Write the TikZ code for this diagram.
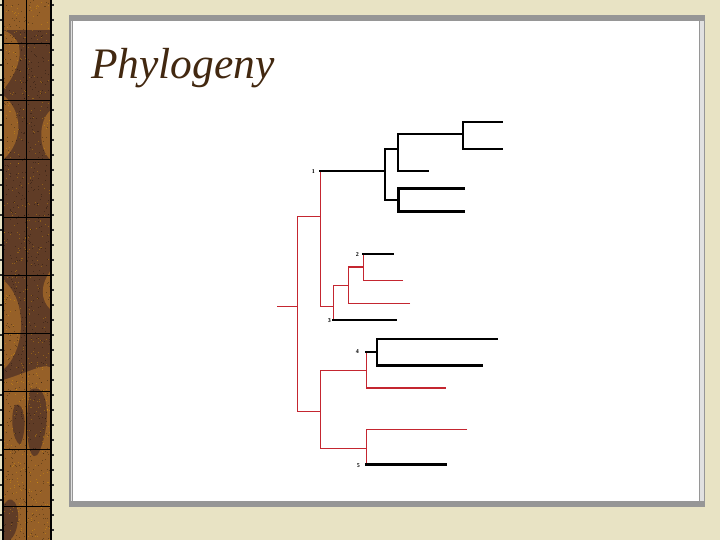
\documentclass[tikz,border=0pt]{standalone}
\usepackage{fontspec}
\setmainfont{Liberation Serif}
\definecolor{bgbeige}{RGB}{232,227,196}
\definecolor{browndark}{RGB}{96,60,38}
\definecolor{brownorange}{RGB}{150,96,40}
\definecolor{framegray}{RGB}{150,150,150}
\definecolor{framelight}{RGB}{225,225,225}
\definecolor{treered}{RGB}{196,38,48}
\definecolor{titlebrown}{RGB}{66,40,16}
\tikzset{
  blk/.style={black,line width=2pt,line cap=rect},
  blkthick/.style={black,line width=3pt,line cap=rect},
  redline/.style={treered,line width=1pt},
  redthick/.style={treered,line width=2.6pt},
  numlab/.style={font=\fontsize{6}{7}\selectfont\bfseries,inner sep=0pt,anchor=east},
  blob/.style={fill=brownorange},
  darkblob/.style={fill=browndark},
}
\begin{document}
\begin{tikzpicture}[x=1pt,y=-1pt]
\useasboundingbox (0,0) rectangle (720,540);
% background
\fill[bgbeige] (0,0) rectangle (720,540);
% left textured strip
\begin{scope}
\clip (3,0) rectangle (51,540);
\fill[browndark] (3,0) rectangle (51,540);
\fill[blob] (3,0) rectangle (51,30);
\fill[blob] (3,30) .. controls (30,40) and (20,70) .. (3,90) -- cycle;
\fill[blob] (3,95) .. controls (22,110) and (25,140) .. (3,160) -- cycle;
\fill[blob] (51,110) .. controls (38,120) and (38,150) .. (51,160) -- cycle;
\fill[blob] (3,280) .. controls (28,300) and (26,350) .. (3,370) -- cycle;
\fill[blob] (51,270) .. controls (40,285) and (40,300) .. (51,310) -- cycle;
\fill[blob] (3,380) .. controls (30,372) and (50,360) .. (51,370) -- (51,540) -- (3,540) -- cycle;
\fill[darkblob] (30,390) .. controls (48,380) and (52,420) .. (40,450) .. controls (32,470) and (22,440) .. (30,390) -- cycle;
\fill[darkblob] (15,405) .. controls (25,400) and (28,430) .. (20,445) .. controls (12,440) and (10,415) .. (15,405) -- cycle;
\fill[darkblob] (35,40) .. controls (50,30) and (48,80) .. (40,95) .. controls (30,85) and (28,55) .. (35,40) -- cycle;
\fill[darkblob] (8,500) .. controls (20,495) and (22,530) .. (10,540) -- (3,540) -- (3,505) -- cycle;
\pgfmathsetseed{7}
\foreach \i in {1,...,700}{
  \pgfmathsetmacro{\xx}{3+48*rnd}
  \pgfmathsetmacro{\yy}{540*rnd}
  \fill[black,opacity=0.3] (\xx,\yy) rectangle ++(1,1);
}
\foreach \i in {1,...,500}{
  \pgfmathsetmacro{\xx}{3+48*rnd}
  \pgfmathsetmacro{\yy}{540*rnd}
  \fill[orange!60!yellow,opacity=0.3] (\xx,\yy) rectangle ++(1,1);
}
% grid lines
\draw[black,line width=0.8pt] (26,0) -- (26,540);
\foreach \yy in {43,100,159,217,275,333,391,449,506}
  \draw[black,line width=0.8pt] (3,\yy) -- (51,\yy);
\end{scope}
\draw[black,line width=1.4pt] (3,0) -- (3,540);
\draw[black,line width=1.4pt] (51,0) -- (51,540);
\draw[black!80,line width=1.2pt,dash pattern=on 2pt off 13pt] (1,4) -- (1,540);
\draw[black!80,line width=1.2pt,dash pattern=on 2pt off 13pt] (53,4) -- (53,540);
% slide frame
\fill[framegray] (69,15) rectangle (705,507);
\fill[framelight] (70.5,21) rectangle (703.5,501);
\fill[white] (73,21) rectangle (698.5,501);
\draw[framegray,line width=1pt] (72,21) -- (72,501);
\draw[framegray,line width=1pt] (699.5,21) -- (699.5,501);
% title
\node[anchor=base west,inner sep=0pt,text=titlebrown,font=\fontsize{43.5}{50}\selectfont\itshape] (title) at (91,79) {Phylogeny};
% tree: red branches
\draw[redline] (277,306) -- (297,306);
\draw[redline] (320,217) -- (297,217) -- (297,411) -- (320,411);
\draw[redline] (320,171) -- (320,306) -- (333,306);
\draw[redline] (348,285) -- (333,285) -- (333,320);
\draw[redline] (410,303) -- (348,303) -- (348,267);
\draw[redthick] (348,267) -- (363,267);
\draw[redline] (403,280) -- (363,280) -- (363,254);
\draw[redline] (366,370) -- (320,370) -- (320,448) -- (366,448);
\draw[redline] (366,352) -- (366,388);
\draw[redthick] (366,388) -- (446,388);
\draw[redline] (467,429) -- (366,429) -- (366,464);
% tree: black branches
\draw[blk] (320,171) -- (385,171);
\draw[blk] (398,149) -- (385,149) -- (385,200) -- (398,200);
\draw[blk] (463,134) -- (398,134) -- (398,171) -- (428,171);
\draw[blk] (502,122) -- (463,122) -- (463,149) -- (502,149);
\draw[blkthick] (463,189) -- (398,189) -- (398,212) -- (463,212);
\draw[blk] (363,254) -- (393,254);
\draw[blk] (333,320) -- (396,320);
\draw[blk] (366,352) -- (377,352);
\draw[blk] (497,339) -- (377,339) -- (377,365);
\draw[blkthick] (377,365) -- (481,365);
\draw[blkthick] (366,464) -- (445,464);
% labels
\node[numlab] (n1) at (315,172) {1};
\node[numlab] (n2) at (359,255) {2};
\node[numlab] (n3) at (331,321) {3};
\node[numlab] (n4) at (359,352) {4};
\node[numlab] (n5) at (360,466) {5};
\end{tikzpicture}
\end{document}
